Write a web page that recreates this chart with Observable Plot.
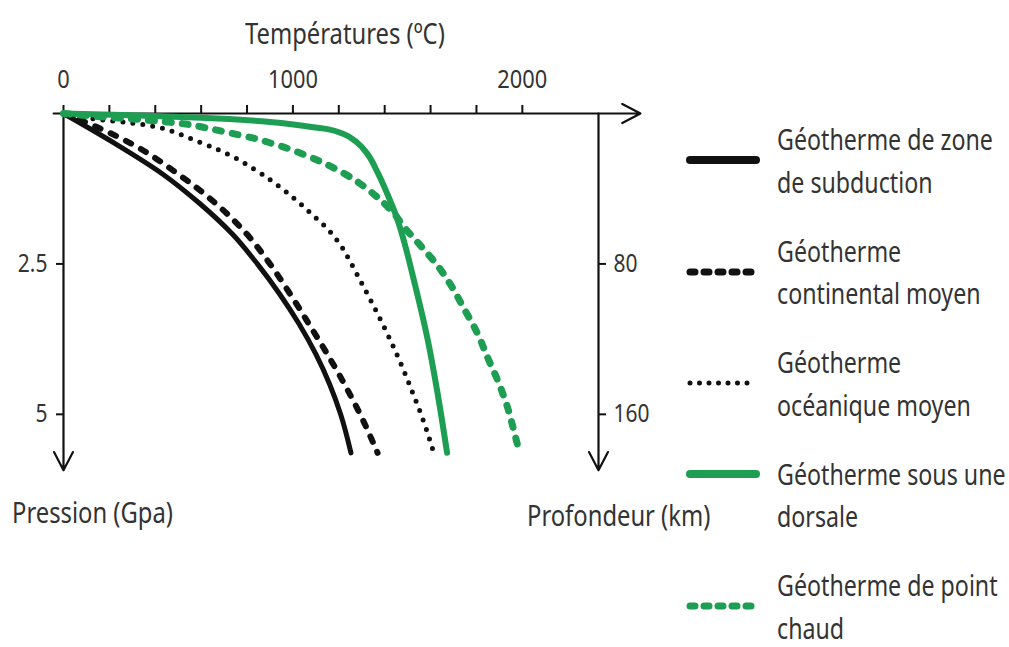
<!DOCTYPE html>
<html lang="fr">
<head>
<meta charset="utf-8">
<script src="https://cdn.jsdelivr.net/npm/d3@7"></script>
<script src="https://cdn.jsdelivr.net/npm/@observablehq/plot@0.6"></script>
<style>
  html, body { margin: 0; padding: 0; background: #fff; }
  #wrap {
    position: relative; width: 1009px; height: 647px; overflow: hidden;
    font-family: "Noto Sans", "Open Sans", sans-serif;
    color: #333;
  }
  #chart { position: absolute; left: 0; top: 0; }
  .t {
    position: absolute; font-size: 29px; line-height: 1; white-space: nowrap;
    transform: scaleX(0.82); transform-origin: left center;
  }
  #legend { position: absolute; left: 685px; top: 122px; width: 320px; }
  .item { display: flex; align-items: center; margin-bottom: 35px; }
  .item.top { align-items: flex-start; }
  .item svg { flex: none; margin-right: 16px; }
  .item .lab {
    font-size: 29px; white-space: nowrap;
    transform: scaleX(0.8); transform-origin: left center;
  }
  .item .lab div { line-height: 34px; height: 34px; }
  .item .lab div + div { margin-top: 8.5px; }
</style>
</head>
<body>
<div id="wrap">
  <div id="chart"></div>
  <div class="t" id="xtitle">Températures (ºC)</div>
  <div class="t" id="ytitle">Pression (Gpa)</div>
  <div class="t" id="y2title">Profondeur (km)</div>
  <div id="legend"></div>
</div>
<script>
// Geotherms: [temperature °C, pressure GPa]
const subduction = [[0,0],[225,0.5],[430,1],[595,1.5],[735,2],[845,2.5],[942,3],[1027,3.5],[1100,4],[1160,4.5],[1208,5],[1253,5.64]];
const continental = [[0,0],[160,0.25],[295,0.5],[497,1],[665,1.5],[798,2],[900,2.5],[988,3],[1070,3.5],[1150,4],[1225,4.5],[1293,5],[1369,5.64]];
const oceanique = [[0,0],[100,0.07],[200,0.12],[300,0.16],[400,0.22],[510,0.35],[589,0.47],[672,0.6],[750,0.74],[829,0.92],[900,1.1],[946,1.23],[1020,1.46],[1090,1.7],[1151,1.92],[1210,2.2],[1255,2.5],[1297,2.8],[1369,3.33],[1455,4.02],[1524,4.66],[1570,5.12],[1614,5.64]];
const dorsale = [[0,0],[300,0.03],[600,0.07],[900,0.14],[1034,0.2],[1151,0.26],[1221,0.34],[1282,0.49],[1326,0.68],[1369,0.98],[1413,1.35],[1450,1.7],[1475,2.0],[1526,2.75],[1587,3.75],[1631,4.66],[1672,5.64]];
const pointChaud = [[0,0],[150,0.05],[300,0.09],[450,0.14],[541,0.18],[611,0.23],[685,0.29],[759,0.35],[829,0.41],[903,0.49],[977,0.58],[1047,0.68],[1121,0.8],[1195,0.94],[1260,1.08],[1326,1.26],[1391,1.47],[1440,1.66],[1483,1.88],[1557,2.2],[1631,2.53],[1688,2.85],[1744,3.23],[1805,3.66],[1849,4.06],[1893,4.44],[1936,4.89],[1965,5.3],[1988,5.64]];

// Axes
const tempTicks = [0, 200, 400, 600, 800, 1000, 1200, 1400, 1600, 1800, 2000];
const tempLabels = [0, 1000, 2000];
const pressureTicks = [2.5, 5];
const depthTicks = [80, 160];
const kmPerGPa = 32;

const legendNames = [
  ["Géotherme de zone", "de subduction"],
  ["Géotherme", "continental moyen"],
  ["Géotherme", "océanique moyen"],
  ["Géotherme sous une", "dorsale"],
  ["Géotherme de point", "chaud"]
];

const BLACK = "#111", GREEN = "#1e9e52";
const styles = [
  {stroke: BLACK, strokeWidth: 5},
  {stroke: BLACK, strokeWidth: 6, strokeDasharray: "6,11", strokeLinecap: "round"},
  {stroke: BLACK, strokeWidth: 5, strokeDasharray: "0,10", strokeLinecap: "round"},
  {stroke: GREEN, strokeWidth: 6},
  {stroke: GREEN, strokeWidth: 7, strokeDasharray: "6,11", strokeLinecap: "round"}
];
const legendStyles = [
  {width: 8, dash: null},
  {width: 7, dash: "5,9"},
  {width: 5, dash: "0,9.5"},
  {width: 8, dash: null},
  {width: 7, dash: "5,9"}
];
const series = [subduction, continental, oceanique, dorsale, pointChaud];

const T = d => d[0], P = d => d[1];
const axisLines = [
  {x1: -43, y1: 0, x2: 2515, y2: 0},
  {x1: 0, y1: 0, x2: 0, y2: 5.93},
  {x1: 2332, y1: 0, x2: 2332, y2: 5.93}
];

const font = '"Noto Sans", "Open Sans", sans-serif';

const chart = Plot.plot({
  width: 1009,
  height: 647,
  marginTop: 113,
  marginLeft: 63,
  marginRight: 411,
  marginBottom: 173,
  style: {fontFamily: font, color: "#333", background: "transparent"},
  x: {domain: [0, 2332]},
  y: {domain: [0, 6], reverse: true},
  marks: [
    Plot.axisX({anchor: "top", ticks: tempTicks, tickSize: 9, tickPadding: 17, strokeWidth: 2,
      tickFormat: d => tempLabels.includes(d) ? String(d) : "", fontSize: 26, label: null, stroke: "#111"}),
    Plot.axisY({anchor: "left", ticks: pressureTicks, tickSize: 7, tickPadding: 9, strokeWidth: 2,
      tickFormat: d => String(d), fontSize: 25, label: null, stroke: "#111"}),
    Plot.axisY({anchor: "right", ticks: depthTicks.map(k => k / kmPerGPa), tickSize: 7, tickPadding: 8, strokeWidth: 2,
      tickFormat: d => String(Math.round(d * kmPerGPa)), fontSize: 25, label: null, stroke: "#111"}),
    Plot.arrow(axisLines, {x1: "x1", y1: "y1", x2: "x2", y2: "y2", stroke: "#111", strokeWidth: 2.2, headLength: 14, headAngle: 55}),
    ...series.map((s, i) => Plot.line(s, {x: T, y: P, curve: "monotone-y", ...styles[i]}))
  ]
});
// narrow the tick-label glyphs horizontally, keeping each label anchored at its tick
d3.select(chart).selectAll("g[aria-label$='tick label'] text").each(function() {
  const tr = this.getAttribute("transform") || "";
  this.setAttribute("transform", tr + " scale(0.84,1)");
});
document.getElementById("chart").appendChild(chart);

// Axis titles
const place = (id, css) => Object.assign(document.getElementById(id).style, css);
place("xtitle", {left: "245px", top: "18px"});
place("ytitle", {left: "12px", top: "497px"});
place("y2title", {left: "527px", top: "500px"});

// Legend
const legend = document.getElementById("legend");
legendNames.forEach((lines, i) => {
  const item = document.createElement("div");
  item.className = "item" + (i === 3 ? " top" : "");
  const st = styles[i], ls = legendStyles[i];
  const sw = d3.create("svg").attr("width", 76).attr("height", 14)
    .style("margin-top", i === 3 ? "10px" : null);
  sw.append("line").attr("x1", 5).attr("x2", 71).attr("y1", 7).attr("y2", 7)
    .attr("stroke", st.stroke).attr("stroke-width", ls.width)
    .attr("stroke-dasharray", ls.dash)
    .attr("stroke-linecap", "round");
  item.appendChild(sw.node());
  const lab = document.createElement("div");
  lab.className = "lab";
  lines.forEach(line => {
    const row = document.createElement("div");
    row.textContent = line;
    lab.appendChild(row);
  });
  item.appendChild(lab);
  legend.appendChild(item);
});
</script>
</body>
</html>
